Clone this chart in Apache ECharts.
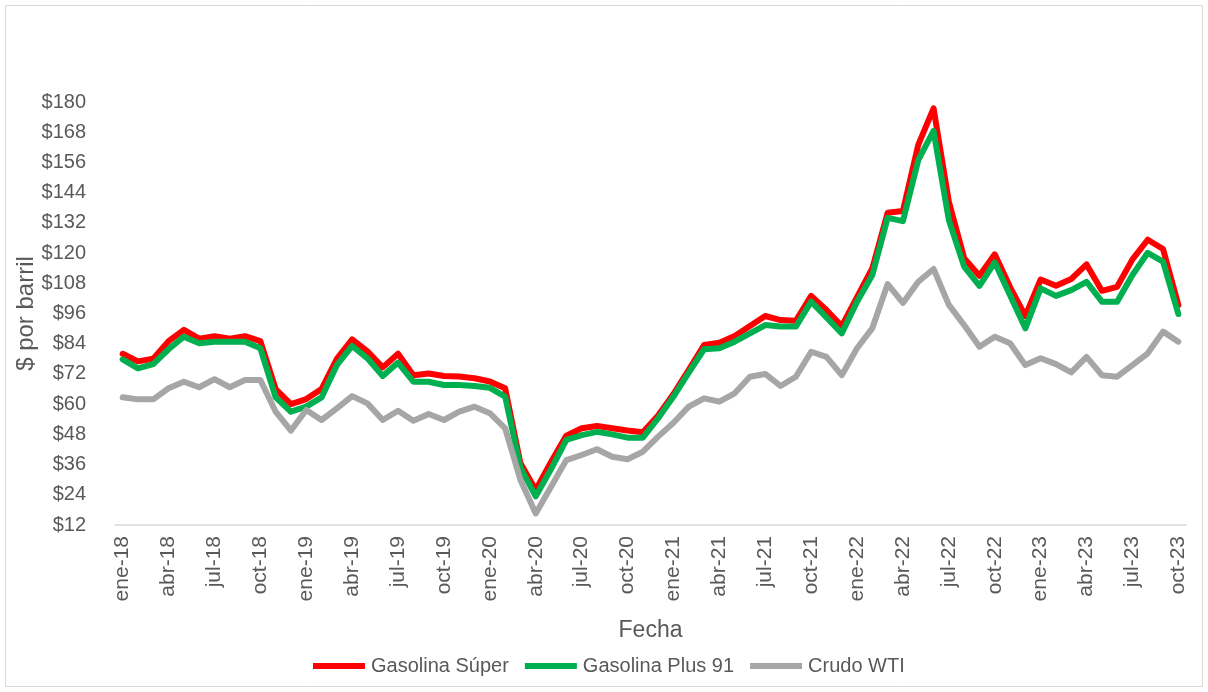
<!DOCTYPE html>
<html>
<head>
<meta charset="utf-8">
<script src="https://cdn.jsdelivr.net/npm/echarts@6/dist/echarts.min.js"></script>
<style>
html,body{margin:0;padding:0;background:#fff;}
#chart{width:1208px;height:692px;}
</style>
</head>
<body>
<div id="chart"></div>
<script>
const months = ['ene','feb','mar','abr','may','jun','jul','ago','sep','oct','nov','dic'];
const years = ['18','19','20','21','22','23'];
const categories = [];
years.forEach(y => months.forEach(m => { if (categories.length < 70) categories.push(m + '-' + y); }));

const gasolinaSuper = [
  80, 77, 78, 85, 89.5, 86, 87, 86, 87, 85, 66, 60,
  62, 66, 78, 85.7, 81, 74.6, 80, 71.5, 72.2, 71.2, 71, 70.3,
  69, 66.3, 36.5, 25.9, 37, 47.5, 50.4, 51.3, 50.4, 49.5, 48.8, 55.5,
  64, 73.6, 83.5, 84.4, 87.1, 91, 95, 93.4, 93.1, 103, 97.4, 91,
  102.5, 114, 136, 136.7, 163, 177.5, 140.4, 118, 111, 119.5, 106.5, 95,
  109.5, 107, 109.7, 115.5, 105, 106.6, 117.5, 125.3, 121.6, 99.4
];
const gasolinaPlus91 = [
  77.8, 74.2, 75.9, 81.8, 86.8, 84.2, 84.8, 84.8, 84.8, 82.2, 62.7, 57,
  59, 62.7, 75.5, 83.1, 78.2, 71.2, 76.5, 68.9, 68.9, 67.6, 67.6, 67.2,
  66.5, 63, 34.8, 23.4, 34.2, 45.8, 47.7, 49, 48, 46.7, 46.7, 54.4,
  63, 72.5, 81.8, 82.2, 84.8, 88.1, 91.4, 90.8, 90.8, 100.7, 94.5, 88.1,
  100.7, 111.3, 134, 132.7, 156.9, 168.5, 133.1, 114.6, 107, 116.3, 103.3, 90.1,
  106, 103, 105.3, 108.6, 100.7, 100.7, 111.3, 120.1, 116.6, 95.8
];
const crudoWTI = [
  62.7, 61.9, 61.9, 66.3, 68.9, 66.7, 69.9, 66.7, 69.6, 69.6, 57, 49.5,
  57.7, 53.7, 58.3, 63.2, 60.3, 53.7, 57.4, 53.4, 56.1, 53.7, 57, 59,
  56.4, 50.4, 29.9, 16.6, 27.2, 37.8, 39.8, 42.1, 39.1, 38.1, 41.1, 47.1,
  52.6, 59, 62.3, 61, 64.3, 70.9, 72, 67.2, 70.9, 80.8, 78.8, 71.5,
  82.2, 90.2, 107.7, 100.2, 108.6, 113.7, 99.4, 91.4, 82.8, 86.8, 84.2, 75.5,
  78.2, 75.9, 72.6, 78.8, 71.5, 70.9, 75.5, 80.2, 88.8, 84.8
];
const seriesNames = ['Gasolina Súper', 'Gasolina Plus 91', 'Crudo WTI'];
const seriesColors = ['#FF0000', '#00B050', '#A6A6A6'];
const seriesData = [gasolinaSuper, gasolinaPlus91, crudoWTI];

const FONT = 'Liberation Sans';
const chart = echarts.init(document.getElementById('chart'), null, {renderer: 'canvas'});
chart.setOption({
  animation: false,
  backgroundColor: '#fff',
  textStyle: {fontFamily: FONT},
  graphic: [{
    type: 'rect', shape: {x: 5.5, y: 5.5, width: 1197, height: 681},
    style: {fill: 'none', stroke: '#D9D9D9', lineWidth: 1}, silent: true, z: -1
  }],
  grid: {left: 115, right: 22, top: 102, bottom: 167, containLabel: false},
  legend: {
    data: seriesNames,
    left: 308, top: 651,
    icon: 'rect', itemWidth: 52, itemHeight: 6, itemGap: 16,
    textStyle: {fontFamily: FONT, fontSize: 20, color: '#595959', padding: [0, 0, 0, 1]}
  },
  xAxis: {
    type: 'category', data: categories, boundaryGap: true,
    name: 'Fecha', nameLocation: 'middle', nameGap: 94, nameMoveOverlap: false,
    nameTextStyle: {fontFamily: FONT, fontSize: 23, color: '#595959'},
    axisLine: {lineStyle: {color: '#D9D9D9', width: 1.5}},
    axisTick: {interval: 2, length: 7, lineStyle: {color: '#D9D9D9', width: 1.5}},
    axisLabel: {interval: 2, rotate: 90, margin: 11, fontFamily: FONT, fontSize: 21, color: '#595959'},
    splitLine: {show: false}
  },
  yAxis: {
    type: 'value', min: 12, max: 180, interval: 12,
    name: '$ por barril', nameLocation: 'middle', nameRotate: 90, nameGap: 77, nameMoveOverlap: false,
    nameTextStyle: {fontFamily: FONT, fontSize: 24, color: '#595959'},
    axisLine: {show: false}, axisTick: {show: false}, splitLine: {show: false},
    axisLabel: {margin: 29, fontFamily: FONT, fontSize: 20, color: '#595959', formatter: v => '$' + v}
  },
  series: seriesData.map((d, i) => ({
    name: seriesNames[i], type: 'line', data: d,
    symbol: 'none', smooth: false,
    lineStyle: {color: seriesColors[i], width: 6, join: 'round', cap: 'round'},
    itemStyle: {color: seriesColors[i]}
  }))
});
</script>
</body>
</html>
